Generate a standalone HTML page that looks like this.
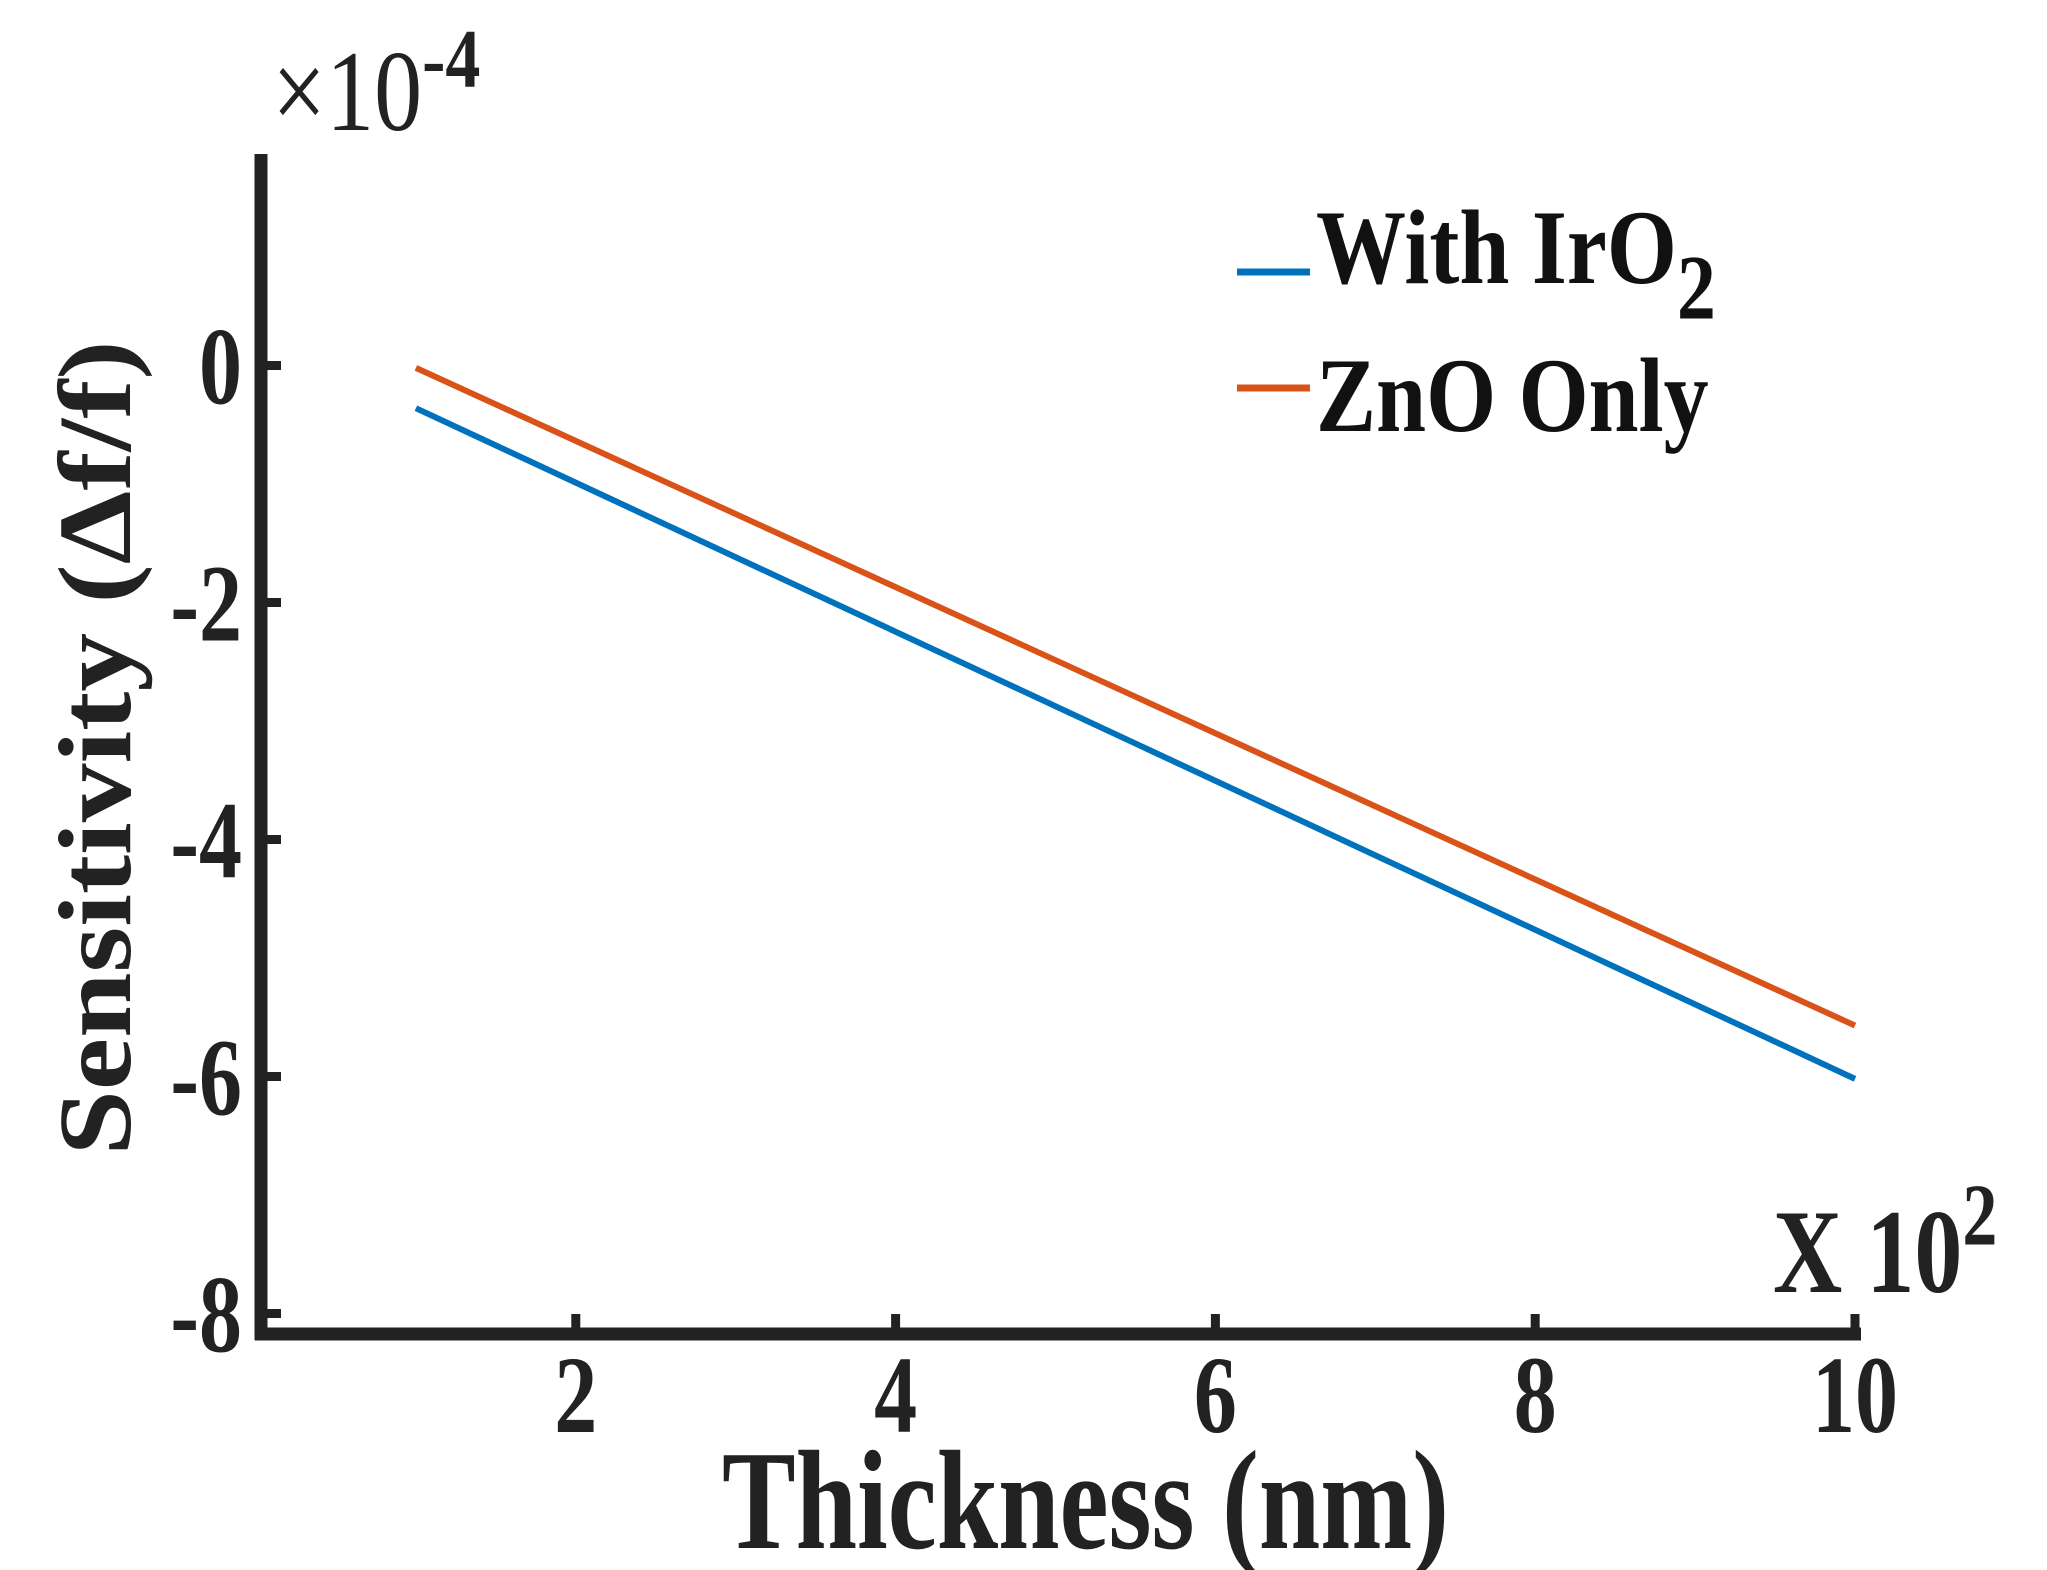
<!DOCTYPE html>
<html><head><meta charset="utf-8"><style>
html,body{margin:0;padding:0;background:#fff;}
svg{display:block;font-family:"Liberation Serif",serif;}
</style></head><body>
<svg id="chart" width="2047" height="1570" viewBox="0 0 2047 1570">
<g id="series"></g>
<g id="axes"></g>
<text transform="translate(272,130) scale(1,1.2)" font-size="96" fill="#222">×10<tspan dy="-36" font-size="70" font-weight="bold">-4</tspan></text>
<text transform="translate(1773,1292) scale(1,1.25)" font-size="96" font-weight="bold" fill="#222">X 10<tspan dy="-38" font-size="70">2</tspan></text>
<text transform="translate(722,1548) scale(1,1.2)" font-size="118" font-weight="bold" fill="#222" textLength="727" lengthAdjust="spacingAndGlyphs">Thickness (nm)</text>
<text transform="translate(130,748) rotate(-90)" text-anchor="middle" font-size="104" font-weight="bold" fill="#222" textLength="815" lengthAdjust="spacingAndGlyphs">Sensitivity (Δf/f)</text>
<g>
<line x1="1237" y1="272" x2="1310" y2="272" stroke="#0072BD" stroke-width="7"/>
<text transform="translate(1316,283) scale(1,1.18)" font-size="90" font-weight="bold" fill="#111">With IrO<tspan dy="30" font-size="78">2</tspan></text>
<line x1="1237" y1="388" x2="1310" y2="388" stroke="#D95319" stroke-width="7"/>
<text transform="translate(1316,431) scale(1,1.18)" font-size="90" font-weight="bold" fill="#111">ZnO Only</text>
</g>
</svg>
<script>
const xValues = [1, 10];
const iro2Values = [-0.36, -6.02];
const znoValues = [-0.02, -5.57];
const xTicks = [2, 4, 6, 8, 10];
const yTicks = [0, -2, -4, -6, -8];
const xTickLabels = ["2", "4", "6", "8", "10"];
const yTickLabels = ["0", "-2", "-4", "-6", "-8"];

const NS = "http://www.w3.org/2000/svg";
const X0 = 256, XU = 159.9, Y0 = 365.5, YU = 118.5;
function sx(v){ return X0 + v * XU; }
function sy(v){ return Y0 - v * YU; }
function mk(tag, attrs, parent){
  const e = document.createElementNS(NS, tag);
  for (const k in attrs) e.setAttribute(k, attrs[k]);
  parent.appendChild(e);
  return e;
}
const series = document.getElementById("series");
const axes = document.getElementById("axes");
function drawLine(vals, color, name){
  const pts = xValues.map((x, i) => sx(x) + "," + sy(vals[i])).join(" ");
  const p = mk("polyline", {points: pts, fill: "none", stroke: color, "stroke-width": 6}, series);
  
  
}
drawLine(iro2Values, "#0072BD", "line-with-iro2");
drawLine(znoValues, "#D95319", "line-zno-only");

const axTop = 154, axBottom = 1334, axLeft = 261, axRight = 1861;
const ya = mk("line", {x1: axLeft, y1: axTop, x2: axLeft, y2: axBottom + 6, stroke: "#222", "stroke-width": 13}, axes);


const xa = mk("line", {x1: axLeft - 6, y1: axBottom, x2: axRight, y2: axBottom, stroke: "#222", "stroke-width": 13}, axes);



xTicks.forEach((t, i) => {
  const tk = mk("line", {x1: sx(t), y1: axBottom, x2: sx(t), y2: axBottom - 20, stroke: "#222", "stroke-width": 9}, axes);
  
  
  const lb = mk("text", {transform: "translate(" + sx(t) + ",1432) scale(1,1.28)", "text-anchor": "middle", "font-size": 86, "font-weight": "bold", fill: "#222"}, axes);
  lb.textContent = xTickLabels[i];
  
  
});
yTicks.forEach((t, i) => {
  const tk = mk("line", {x1: axLeft, y1: sy(t), x2: axLeft + 20, y2: sy(t), stroke: "#222", "stroke-width": 9}, axes);
  
  
  const lb = mk("text", {transform: "translate(242," + (sy(t) + 38) + ") scale(1,1.28)", "text-anchor": "end", "font-size": 86, "font-weight": "bold", fill: "#222"}, axes);
  lb.textContent = yTickLabels[i];
  
  
});
</script>
</body></html>
